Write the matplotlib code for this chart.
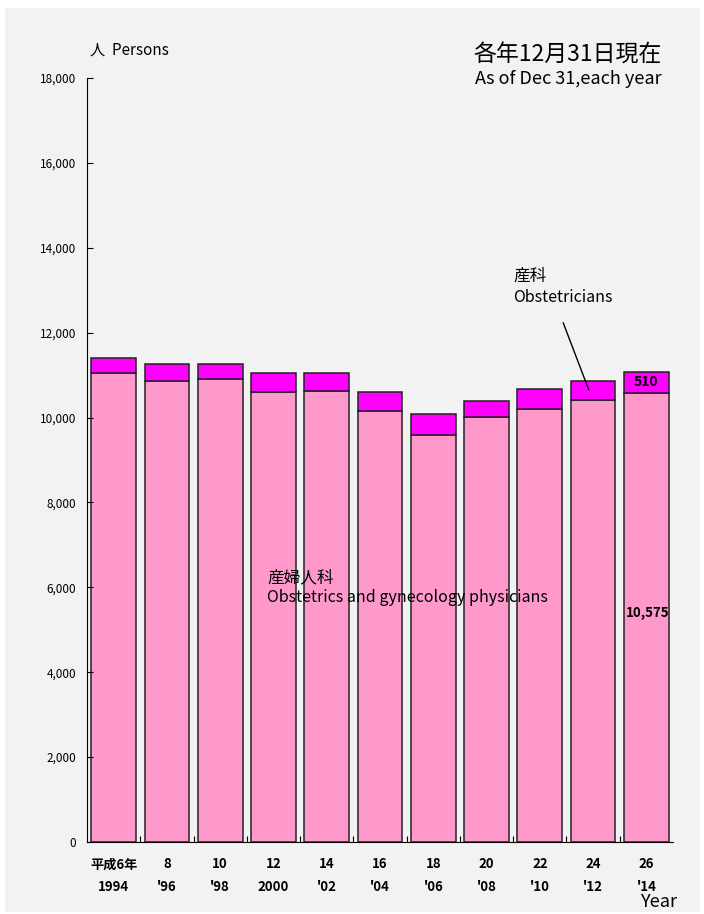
import matplotlib
matplotlib.use('Agg')
import matplotlib.pyplot as plt
from matplotlib.patches import Rectangle

plt.rcParams['font.family'] = ['Noto Sans CJK JP', 'DejaVu Sans']

# Data
years = ['平成6年\n1994', "8\n'96", "10\n'98", '12\n2000', "14\n'02", "16\n'04",
         "18\n'06", "20\n'08", "22\n'10", "24\n'12", "26\n'14"]
obgyn = [11060, 10860, 10920, 10600, 10630, 10150, 9595, 10020, 10210, 10405, 10575]
obstetrics = [335, 400, 340, 455, 425, 455, 480, 360, 455, 455, 510]

PINK = '#ff99cc'
MAGENTA = '#ff00ff'

fig = plt.figure(figsize=(7.04, 9.14), dpi=100, facecolor='white')
fig.patches.append(Rectangle((5 / 704, 2 / 914), 695 / 704, 904 / 914,
                             transform=fig.transFigure, facecolor='#f2f2f2',
                             edgecolor='none', zorder=-10))
ax = fig.add_axes([87 / 704, 72 / 914, 586 / 704, 764 / 914])
ax.set_facecolor('none')

x = range(len(years))
ax.bar(x, obgyn, width=0.84, color=PINK, edgecolor='#222222', linewidth=1.1)
ax.bar(x, obstetrics, width=0.84, bottom=obgyn, color=MAGENTA,
       edgecolor='#222222', linewidth=1.1)

ax.set_xlim(-0.5, len(years) - 0.5)
ax.set_ylim(0, 18000)
ax.set_yticks(range(0, 18001, 2000))
ax.set_yticklabels([f'{v:,}' for v in range(0, 18001, 2000)], fontsize=8.5)
ax.tick_params(axis='y', direction='in', length=4, pad=8)

ax.set_xticks([i + 0.5 for i in range(len(years) - 1)], minor=False)
ax.set_xticklabels([])
ax.tick_params(axis='x', direction='in', length=4)
ax.set_xticks(list(x), minor=True)
ax.set_xticklabels(years, minor=True, fontsize=9.5, fontweight='bold', linespacing=1.75)
ax.tick_params(axis='x', which='minor', length=0, pad=11)

for s in ['top', 'right']:
    ax.spines[s].set_visible(False)

# annotations
last = len(years) - 1
ax.text(last, obgyn[last] + obstetrics[last] / 2, f'{obstetrics[last]}',
        ha='center', va='center', fontsize=10, fontweight='bold')
ax.text(last + 0.02, 5400, f'{obgyn[last]:,}', ha='center', va='center',
        fontsize=9.5, fontweight='bold')

ax.text(2.88, 6220, '産婦人科', fontsize=12, va='center')
ax.text(2.88, 5750, 'Obstetrics and gynecology physicians', fontsize=11.5, va='center')

ax.text(7.5, 13330, '産科', fontsize=12, va='center')
ax.text(7.5, 12840, 'Obstetricians', fontsize=11.5, va='center')
ax.plot([8.44, 8.92], [12230, 10650], color='black', linewidth=1.0)

fig.text(90 / 704, 1 - 50 / 914, '人  Persons', fontsize=11, va='center')
fig.text(662 / 704, 1 - 55 / 914, '各年12月31日現在', fontsize=16.5, ha='right', va='center')
fig.text(662 / 704, 1 - 79 / 914, 'As of Dec 31,each year', fontsize=13, ha='right', va='center')
fig.text(678 / 704, 1 - 902 / 914, 'Year', fontsize=13, ha='right', va='center')

fig.savefig('out.png', dpi=100, facecolor='white')
